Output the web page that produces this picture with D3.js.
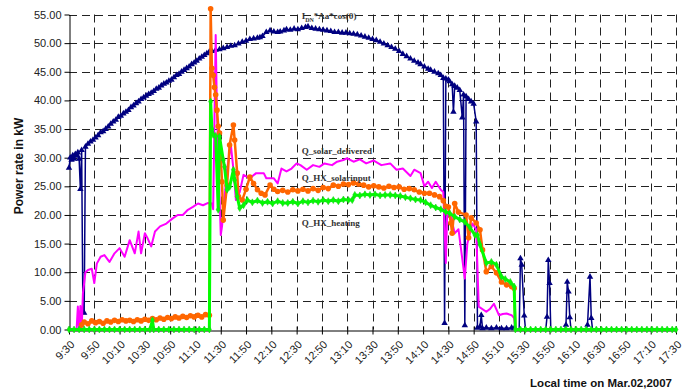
<!DOCTYPE html>
<html>
<head>
<meta charset="utf-8">
<script src="https://cdn.jsdelivr.net/npm/d3@7"></script>
<style>
  body { margin: 0; background: #fff; }
  svg { display: block; font-family: Arial, "Liberation Sans", sans-serif; }
</style>
</head>
<body>
<svg id="chart" width="685" height="392"></svg>
<script>
// x 轴刻度 (每 20 分钟)
const tickLabels = ['9:30', '9:50', '10:10', '10:30', '10:50', '11:10', '11:30', '11:50', '12:10',
  '12:30', '12:50', '13:10', '13:30', '13:50', '14:10', '14:30', '14:50', '15:10', '15:30',
  '15:50', '16:10', '16:30', '16:50', '17:10', '17:30']
const yTicks = [0, 5, 10, 15, 20, 25, 30, 35, 40, 45, 50, 55]

// I_DN*Aa*cos(θ)
const irradiance = [
  ['9:30', 28.2], ['9:31', 30.0], ['9:32', 29.6], ['9:33', 30.4], ['9:34', 29.8], ['9:35', 30.6],
  ['9:36', 30.3], ['9:37', 30.9], ['9:38', 29.8], ['9:39', 24.5], ['9:40', 31.3], ['9:41', 3.0],
  ['9:42', 2.9], ['9:43', 31.9], ['9:45', 32.4], ['9:47', 32.8], ['9:49', 33.1], ['9:51', 33.5],
  ['9:53', 33.9], ['9:55', 34.4], ['9:57', 34.6], ['9:59', 35.0], ['10:01', 35.4], ['10:03', 35.9],
  ['10:05', 36.3], ['10:07', 36.6], ['10:09', 37.1], ['10:11', 37.3], ['10:13', 37.7], ['10:15', 38.0],
  ['10:17', 38.3], ['10:19', 38.8], ['10:21', 39.1], ['10:23', 39.5], ['10:25', 39.8], ['10:27', 40.2],
  ['10:29', 40.5], ['10:31', 40.8], ['10:33', 41.1], ['10:35', 41.3], ['10:37', 41.6], ['10:39', 42.0],
  ['10:41', 42.2], ['10:43', 42.6], ['10:45', 42.9], ['10:47', 43.1], ['10:49', 43.4], ['10:51', 43.6],
  ['10:53', 44.0], ['10:55', 44.4], ['10:57', 44.6], ['10:59', 45.0], ['11:01', 45.3], ['11:03', 45.6],
  ['11:05', 45.9], ['11:07', 46.3], ['11:09', 46.6], ['11:11', 46.9], ['11:13', 47.3], ['11:15', 47.6],
  ['11:17', 47.9], ['11:19', 48.2], ['11:21', 48.5], ['11:23', 48.6], ['11:26', 48.8], ['11:29', 48.9],
  ['11:32', 49.1], ['11:35', 49.3], ['11:38', 49.5], ['11:41', 49.6], ['11:44', 49.9], ['11:47', 50.2],
  ['11:50', 50.4], ['11:53', 50.7], ['11:56', 50.8], ['11:59', 50.9], ['12:01', 51.0], ['12:03', 51.2],
  ['12:06', 51.9], ['12:09', 52.2], ['12:12', 52.0], ['12:15', 51.9], ['12:17', 52.0], ['12:20', 52.2],
  ['12:22', 52.4], ['12:25', 52.3], ['12:28', 52.5], ['12:31', 52.4], ['12:34', 52.6], ['12:37', 52.8],
  ['12:39', 52.9], ['12:42', 52.6], ['12:45', 52.5], ['12:48', 52.4], ['12:51', 52.3], ['12:54', 52.2],
  ['12:57', 52.1], ['13:00', 51.9], ['13:03', 51.9], ['13:06', 51.8], ['13:09', 51.8], ['13:12', 51.7],
  ['13:15', 51.6], ['13:18', 51.5], ['13:21', 51.3], ['13:24', 51.1], ['13:27', 50.9], ['13:30', 50.7],
  ['13:33', 50.5], ['13:36', 50.2], ['13:39', 49.9], ['13:42', 49.6], ['13:45', 49.3], ['13:48', 49.0],
  ['13:51', 48.6], ['13:54', 48.1], ['13:57', 47.7], ['14:00', 47.3], ['14:03', 46.9], ['14:06', 46.6],
  ['14:08', 46.3], ['14:11', 45.9], ['14:14', 45.5], ['14:16', 45.3], ['14:19', 45.0], ['14:22', 44.7],
  ['14:24', 44.4], ['14:26', 43.9], ['14:27', 1.1], ['14:28', 43.8], ['14:30', 43.6], ['14:31', 43.3],
  ['14:33', 42.8], ['14:34', 38.0], ['14:35', 42.5], ['14:37', 42.2], ['14:39', 41.8], ['14:41', 37.0],
  ['14:42', 41.0], ['14:43', 0.7], ['14:44', 40.7], ['14:46', 40.2], ['14:48', 39.8], ['14:50', 39.4],
  ['14:52', 36.3], ['14:53', 0.3], ['14:55', 0.5], ['14:56', 2.5], ['14:57', 0.2], ['15:00', 0.3],
  ['15:04', 0.2], ['15:08', 0.3], ['15:12', 0.2], ['15:16', 0.2], ['15:20', 0.3], ['15:22', 0.2],
  ['15:26', 0.0], ['15:27', 12.4], ['15:28', 11.3], ['15:30', 2.4], ['15:31', 0.0], ['15:47', 0.0],
  ['15:48', 2.2], ['15:49', 12.1], ['15:50', 8.1], ['15:51', 0.0], ['16:02', 0.0], ['16:03', 0.8],
  ['16:04', 8.3], ['16:05', 6.6], ['16:06', 2.1], ['16:07', 0.0], ['16:19', 0.0], ['16:20', 0.8],
  ['16:22', 9.2], ['16:23', 2.0], ['16:24', 0.0], ['17:30', 0.0]
]

// Q_solar_delivered
const solarDelivered = [
  ['9:30', 0], ['9:36', 0], ['9:37', 4.0], ['9:38', 0], ['9:39', 4.1], ['9:40', 0], ['9:41', 6.3],
  ['9:43', 10.0], ['9:45', 10.4], ['9:48', 10.6], ['9:50', 8.1], ['9:52', 11.5], ['9:55', 12.7],
  ['9:58', 13.0], ['10:02', 11.8], ['10:06', 13.3], ['10:10', 14.2], ['10:14', 12.7], ['10:18', 15.6],
  ['10:22', 13.3], ['10:25', 17.1], ['10:27', 13.3], ['10:30', 16.8], ['10:32', 16.0], ['10:35', 14.5],
  ['10:38', 17.1], ['10:42', 18.0], ['10:47', 18.5], ['10:52', 19.4], ['10:56', 20.0], ['11:00', 20.0],
  ['11:04', 20.9], ['11:08', 21.4], ['11:12', 22.0], ['11:16', 21.7], ['11:20', 22.1], ['11:23', 22.0],
  ['11:24', 21.0], ['11:26', 51.4], ['11:27', 38.0], ['11:30', 16.5], ['11:31', 18.0], ['11:35', 28.0],
  ['11:38', 32.2], ['11:40', 28.0], ['11:42', 22.6], ['11:45', 24.0], ['11:48', 27.0], ['11:53', 26.4],
  ['11:58', 27.3], ['12:04', 27.3], ['12:06', 26.4], ['12:12', 26.4], ['12:15', 25.5], ['12:18', 28.1],
  ['12:22', 27.6], ['12:26', 28.1], ['12:30', 29.0], ['12:33', 28.7], ['12:38', 27.9], ['12:43', 28.7],
  ['12:48', 28.4], ['12:52', 29.0], ['12:58', 28.7], ['13:02', 29.3], ['13:07', 29.6], ['13:10', 29.9],
  ['13:15', 29.3], ['13:20', 29.7], ['13:25', 29.0], ['13:31', 29.5], ['13:37', 28.7], ['13:44', 29.0],
  ['13:49', 27.9], ['13:54', 28.1], ['14:00', 26.8], ['14:03', 27.9], ['14:08', 27.3], ['14:11', 25.0],
  ['14:14', 25.8], ['14:17', 24.7], ['14:20', 25.8], ['14:24', 24.4], ['14:26', 24.0], ['14:28', 11.6],
  ['14:29', 20.0], ['14:32', 19.7], ['14:35', 16.8], ['14:38', 17.5], ['14:43', 8.9], ['14:45', 15.0],
  ['14:49', 18.5], ['14:52', 17.5], ['14:54', 4.0], ['15:00', 3.1], ['15:03', 3.6], ['15:06', 4.5],
  ['15:10', 2.5], ['15:13', 2.7], ['15:16', 2.8], ['15:20', 2.5], ['15:22', 2.0], ['15:23', 0],
  ['17:30', 0]
]

// Q_HX_solarinput
const hxSolarInput = [
  ['9:30', 0], ['9:34', 0], ['9:38', 0], ['9:40', 0.8], ['9:42', 1.3], ['9:45', 1.0], ['9:48', 1.5],
  ['9:51', 1.2], ['9:54', 1.4], ['9:57', 1.1], ['10:00', 1.5], ['10:03', 1.3], ['10:06', 1.6],
  ['10:09', 1.4], ['10:12', 1.7], ['10:15', 1.5], ['10:18', 1.6], ['10:21', 1.4], ['10:24', 1.7],
  ['10:27', 1.5], ['10:30', 1.8], ['10:33', 1.6], ['10:36', 1.9], ['10:39', 1.7], ['10:42', 2.0],
  ['10:45', 1.8], ['10:48', 2.1], ['10:51', 1.9], ['10:54', 2.2], ['10:57', 2.0], ['11:00', 2.3],
  ['11:03', 2.1], ['11:06', 2.4], ['11:09', 2.2], ['11:12', 2.5], ['11:15', 2.2], ['11:18', 2.6],
  ['11:21', 2.5], ['11:22', 56.0], ['11:23', 45.6], ['11:24', 44.4], ['11:25', 42.3], ['11:26', 41.0],
  ['11:27', 38.3], ['11:28', 35.5], ['11:29', 34.3], ['11:31', 25.8], ['11:32', 19.1], ['11:35', 25.2],
  ['11:37', 32.2], ['11:40', 35.7], ['11:41', 33.1], ['11:43', 27.3], ['11:44', 23.2], ['11:47', 22.6],
  ['11:50', 24.5], ['11:53', 26.6], ['11:56', 25.5], ['11:59', 24.4], ['12:02', 23.8], ['12:05', 23.5],
  ['12:09', 25.2], ['12:12', 24.5], ['12:15', 24.1], ['12:19', 24.3], ['12:23', 24.0], ['12:27', 24.4],
  ['12:31', 24.2], ['12:35', 24.5], ['12:39', 24.2], ['12:43', 24.6], ['12:47', 24.3], ['12:51', 24.8],
  ['12:55', 24.6], ['12:59', 25.2], ['13:03', 25.0], ['13:07', 25.4], ['13:11', 25.3], ['13:15', 25.6],
  ['13:19', 25.4], ['13:23', 25.2], ['13:27', 24.9], ['13:31', 25.1], ['13:35', 24.9], ['13:39', 24.7],
  ['13:43', 25.0], ['13:47', 24.8], ['13:51', 24.9], ['13:55', 24.5], ['13:59', 24.6], ['14:03', 24.4],
  ['14:07', 24.0], ['14:11', 23.8], ['14:15', 23.8], ['14:19', 23.5], ['14:23', 23.2], ['14:26', 22.5],
  ['14:28', 21.5], ['14:30', 21.4], ['14:32', 18.6], ['14:33', 16.8], ['14:35', 22.0], ['14:38', 20.5],
  ['14:44', 20.0], ['14:46', 16.0], ['14:48', 19.5], ['14:52', 18.6], ['14:55', 17.4], ['14:57', 13.9],
  ['15:00', 10.1], ['15:04', 11.0], ['15:08', 9.9], ['15:12', 8.3], ['15:16', 7.8], ['15:20', 7.5],
  ['15:22', 7.2], ['15:23', 0], ['17:30', 0]
]

// Q_HX_heating
const hxHeating = [
  ['9:30', 0], ['9:34', 0], ['9:38', 0], ['9:42', 0], ['9:46', 0], ['9:50', 0], ['9:54', 0], ['9:58', 0],
  ['10:02', 0], ['10:06', 0], ['10:10', 0], ['10:14', 0], ['10:18', 0], ['10:22', 0], ['10:26', 0],
  ['10:30', 0], ['10:34', 0], ['10:36', 1.6], ['10:37', 0], ['10:41', 0], ['10:45', 0], ['10:49', 0],
  ['10:53', 0], ['10:57', 0], ['11:01', 0], ['11:05', 0], ['11:09', 0], ['11:13', 0], ['11:17', 0],
  ['11:21', 0], ['11:22', 39.8], ['11:23', 35.0], ['11:24', 34.0], ['11:26', 33.8], ['11:28', 20.9],
  ['11:29', 33.7], ['11:32', 29.6], ['11:33', 28.4], ['11:35', 24.4], ['11:37', 24.9], ['11:40', 27.9],
  ['11:41', 26.1], ['11:43', 23.2], ['11:45', 21.2], ['11:48', 21.7], ['11:51', 22.6], ['11:55', 22.2],
  ['11:59', 22.5], ['12:03', 22.1], ['12:07', 22.3], ['12:11', 22.0], ['12:15', 22.4], ['12:19', 22.1],
  ['12:23', 22.1], ['12:27', 22.3], ['12:31', 22.0], ['12:35', 22.4], ['12:39', 22.2], ['12:43', 22.5],
  ['12:47', 22.3], ['12:51', 22.6], ['12:55', 22.4], ['12:59', 22.6], ['13:03', 22.4], ['13:07', 22.7],
  ['13:11', 22.6], ['13:14', 22.6], ['13:16', 23.5], ['13:20', 23.4], ['13:24', 23.6], ['13:28', 23.5],
  ['13:32', 23.6], ['13:36', 23.4], ['13:40', 23.5], ['13:44', 23.5], ['13:48', 23.4], ['13:52', 23.3],
  ['13:56', 23.1], ['14:00', 22.9], ['14:04', 22.7], ['14:08', 22.6], ['14:12', 22.2], ['14:16', 21.7],
  ['14:20', 21.3], ['14:24', 21.0], ['14:28', 20.5], ['14:31', 20.3], ['14:35', 19.7], ['14:39', 19.2],
  ['14:43', 18.8], ['14:47', 17.8], ['14:51', 16.5], ['14:53', 16.5], ['14:55', 14.8], ['15:00', 11.6],
  ['15:04', 11.8], ['15:08', 11.3], ['15:12', 9.2], ['15:15', 8.8], ['15:19', 8.3], ['15:22', 7.5],
  ['15:23', 0], ['15:27', 0], ['15:31', 0], ['15:35', 0], ['15:39', 0], ['15:43', 0], ['15:47', 0],
  ['15:51', 0], ['15:55', 0], ['15:59', 0], ['16:03', 0], ['16:07', 0], ['16:11', 0], ['16:15', 0],
  ['16:19', 0], ['16:23', 0], ['16:27', 0], ['16:31', 0], ['16:35', 0], ['16:39', 0], ['16:43', 0],
  ['16:47', 0], ['16:51', 0], ['16:55', 0], ['16:59', 0], ['17:03', 0], ['17:07', 0], ['17:11', 0],
  ['17:15', 0], ['17:19', 0], ['17:23', 0], ['17:27', 0], ['17:30', 0]
]

const toMin = s => { const [h, m] = s.split(':'); return +h * 60 + +m }

const svg = d3.select('#chart')

const x = d3.scaleLinear().domain([toMin('9:30'), toMin('17:30')]).range([69, 676])
const y = d3.scaleLinear().domain([0, 55]).range([329.5, 14.5])

// 网格线
const grid = svg.append('g').attr('stroke', '#222').attr('stroke-width', 1).attr('stroke-dasharray', '8,5')
grid.selectAll('.hgrid')
  .data(yTicks.filter(v => v > 0))
  .enter()
  .append('line')
  .attr('x1', 69).attr('x2', 676)
  .attr('y1', d => Math.round(y(d)) + 0.5).attr('y2', d => Math.round(y(d)) + 0.5)
grid.selectAll('.vgrid')
  .data(tickLabels.slice(1))
  .enter()
  .append('line')
  .attr('x1', d => Math.round(x(toMin(d))) + 0.5).attr('x2', d => Math.round(x(toMin(d))) + 0.5)
  .attr('y1', y(55)).attr('y2', y(0))

// y 轴
const yAxis = svg.append('g')
  .attr('transform', 'translate(69.5,0)')
  .call(d3.axisLeft(y).tickValues(yTicks).tickFormat(d3.format('.2f')).tickSize(5).tickSizeOuter(0))
yAxis.select('.domain').attr('stroke', '#000')
yAxis.selectAll('.tick line').attr('stroke', '#000')
yAxis.selectAll('text').attr('font-size', 11).attr('fill', '#222').attr('x', -8)

// x 轴
const xAxis = svg.append('g')
  .attr('transform', `translate(0,${Math.round(y(0)) + 0.5})`)
  .call(d3.axisBottom(x).tickValues(tickLabels.map(toMin)).tickFormat((d, i) => tickLabels[i]).tickSize(4).tickSizeOuter(0))
xAxis.select('.domain').attr('stroke', '#000')
xAxis.selectAll('.tick line').attr('stroke', '#000').attr('y1', -4)
xAxis.selectAll('text')
  .attr('font-size', 11)
  .attr('fill', '#222')
  .attr('text-anchor', 'end')
  .attr('transform', 'translate(3,12) rotate(-45)')
  .attr('x', 0).attr('y', 0).attr('dy', '0.35em')

// 折线
const line = d3.line().x(d => x(toMin(d[0]))).y(d => y(d[1]))

const drawSeries = (data, color, width) => {
  svg.append('path')
    .datum(data)
    .attr('d', line)
    .style('fill', 'none')
    .style('stroke', color)
    .style('stroke-width', width)
    .style('stroke-linejoin', 'round')
}

// I_DN*Aa*cos(θ) —— 三角形标记
drawSeries(irradiance, '#000080', 1.5)
svg.append('g').selectAll('path')
  .data(irradiance.filter(d => d[1] > 0))
  .enter()
  .append('path')
  .attr('transform', d => `translate(${x(toMin(d[0]))},${y(d[1])})`)
  .attr('d', d3.symbol().type(d3.symbolTriangle).size(18))
  .style('fill', '#000080')

drawSeries(solarDelivered, '#FF00FF', 2)

// Q_HX_solarinput —— 圆形标记
drawSeries(hxSolarInput, '#FF6600', 2.5)
svg.append('g').selectAll('circle')
  .data(hxSolarInput.filter(d => d[1] > 0))
  .enter()
  .append('circle')
  .attr('cx', d => x(toMin(d[0])))
  .attr('cy', d => y(d[1]))
  .attr('r', 2.8)
  .style('fill', '#FF6600')

// Q_HX_heating —— 菱形标记
drawSeries(hxHeating, '#00FF00', 3)
svg.append('g').selectAll('path')
  .data(hxHeating)
  .enter()
  .append('path')
  .attr('transform', d => `translate(${x(toMin(d[0]))},${y(d[1])})`)
  .attr('d', d3.symbol().type(d3.symbolDiamond).size(14))
  .style('fill', '#00FF00')
  .style('stroke', '#22CC22')
  .style('stroke-width', 0.6)

// 系列名称
const labelStyle = t => t
  .attr('font-family', '"Liberation Serif", "Times New Roman", serif')
  .attr('font-weight', 'bold')
  .attr('font-size', 9)
  .attr('fill', '#333')

const labelX = x(toMin('12:34'))
const idn = svg.append('text').attr('x', labelX).attr('y', 19).call(labelStyle)
idn.append('tspan').text('I')
idn.append('tspan').attr('font-size', 6).attr('dy', 2.5).text('DN')
idn.append('tspan').attr('dy', -2.5).text('*Aa*cos(θ)')

svg.append('text').attr('x', labelX).attr('y', 154).call(labelStyle).text('Q_solar_delivered')
svg.append('text').attr('x', labelX).attr('y', 181).call(labelStyle).text('Q_HX_solarinput')
svg.append('text').attr('x', labelX).attr('y', 226).call(labelStyle).text('Q_HX_heating')

// 轴标题
svg.append('text')
  .attr('transform', 'translate(23,166) rotate(-90)')
  .attr('text-anchor', 'middle')
  .attr('font-size', 12)
  .attr('font-weight', 'bold')
  .attr('fill', '#111')
  .text('Power rate in kW')

svg.append('text')
  .attr('x', 672)
  .attr('y', 387)
  .attr('text-anchor', 'end')
  .attr('font-size', 11.5)
  .attr('font-weight', 'bold')
  .attr('fill', '#111')
  .text('Local time on Mar.02,2007')
</script>
</body>
</html>
